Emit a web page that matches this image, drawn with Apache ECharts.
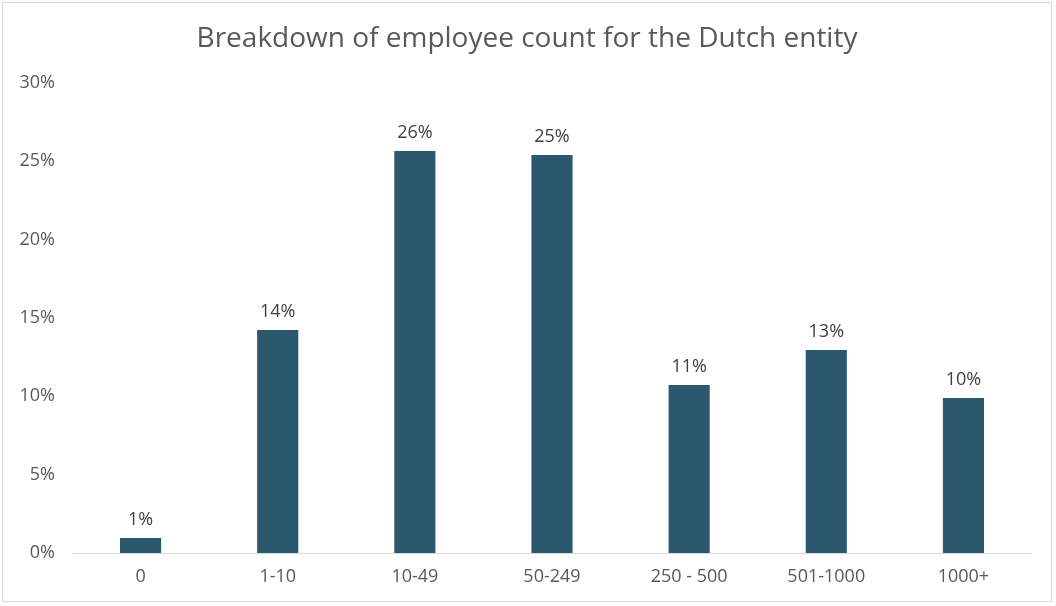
<!DOCTYPE html>
<html>
<head>
<meta charset="utf-8">
<script src="https://cdn.jsdelivr.net/npm/echarts@6/dist/echarts.min.js"></script>
<style>
    html, body {
        margin: 0;
        padding: 0;
        background: #ffffff;
    }
    #chart {
        position: absolute;
        left: 2px;
        top: 2px;
        width: 1050px;
        height: 600px;
        border: 1px solid #d9d9d9;
        box-sizing: border-box;
    }
</style>
</head>
<body>
<div id="chart"></div>
<script>
// employee count buckets
const categories = ['0', '1-10', '10-49', '50-249', '250 - 500', '501-1000', '1000+']
// share of respondents, in percent
const shares = [0.96, 14.23, 25.66, 25.40, 10.72, 12.96, 9.89]
const yTicks = [0, 5, 10, 15, 20, 25, 30]

const fontFamily = '"Open Sans", Lato, sans-serif'
let mychart = echarts.init(document.getElementById('chart'))

let options = {
    animation: false,
    title: {
        text: 'Breakdown of employee count for the Dutch entity',
        left: 'center',
        top: 17,
        textStyle: {
            fontFamily: fontFamily,
            fontSize: 28,
            fontWeight: 'normal',
            color: '#595959'
        }
    },
    grid: {
        left: 69,
        right: 19,
        top: 80,
        bottom: 48
    },
    xAxis: {
        type: 'category',
        data: categories,
        axisLine: { lineStyle: { color: '#d9d9d9', width: 1 } },
        axisTick: { show: false },
        axisLabel: {
            fontFamily: fontFamily,
            fontSize: 18,
            color: '#595959',
            margin: 15
        }
    },
    yAxis: {
        type: 'value',
        min: yTicks[0],
        max: yTicks[yTicks.length - 1],
        interval: 5,
        splitLine: { show: false },
        axisLine: { show: false },
        axisTick: { show: false },
        axisLabel: {
            fontFamily: fontFamily,
            fontSize: 18,
            color: '#595959',
            margin: 17,
            formatter: '{value}%'
        }
    },
    series: [
        {
            type: 'bar',
            data: shares,
            barWidth: '30%',
            itemStyle: { color: '#2b586d' },
            label: {
                show: true,
                position: 'top',
                distance: 9,
                fontFamily: fontFamily,
                fontSize: 18,
                color: '#404040',
                formatter: (p) => Math.round(p.value) + '%'
            }
        }
    ]
}

mychart.setOption(options)
</script>
</body>
</html>
